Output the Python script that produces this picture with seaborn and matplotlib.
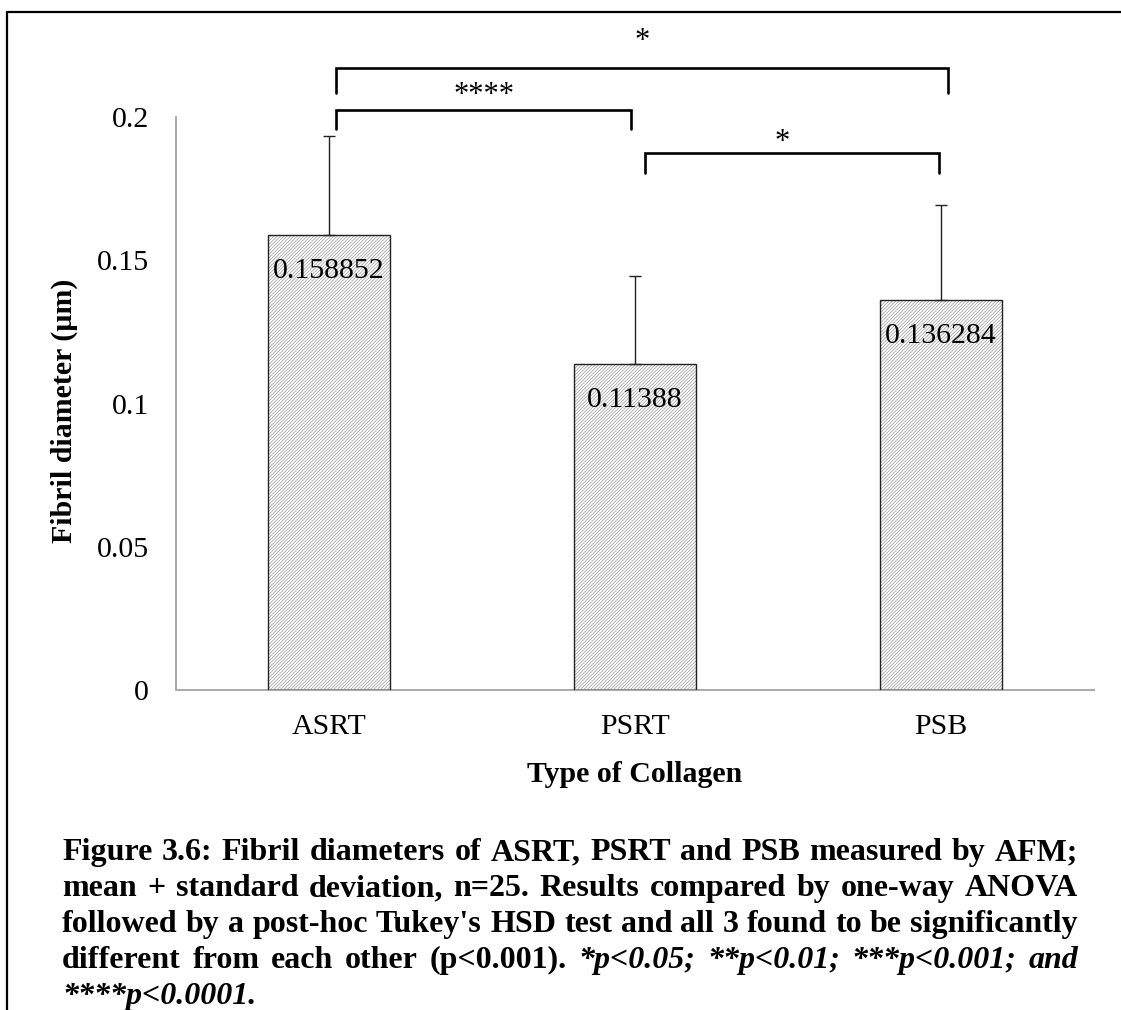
import numpy as np
import pandas as pd
import matplotlib
matplotlib.use("Agg")
import matplotlib.pyplot as plt
from matplotlib.lines import Line2D
from matplotlib.patches import Rectangle
import seaborn as sns

# ---- data -------------------------------------------------------------
collagen_types = ["ASRT", "PSRT", "PSB"]
mean_diameter = [0.158852, 0.11388, 0.136284]
sd_diameter = [0.0346, 0.0307, 0.0330]

y_ticks = [0, 0.05, 0.1, 0.15, 0.2]
y_tick_labels = ["0", "0.05", "0.1", "0.15", "0.2"]

# significance brackets: x start, x end, bracket height, leg bottom, label, label x, label baseline
brackets = [
    (0.023, 0.987, 0.2027, 0.1960, "****", 0.505, 0.2048),
    (0.023, 2.023, 0.2173, 0.2086, "*", 1.023, 0.2240),
    (1.033, 1.993, 0.1876, 0.1806, "*", 1.48, 0.1887),
]

caption_lines = [
    [("Figure 3.6: Fibril diameters of ASRT, PSRT and PSB measured by AFM;", "b")],
    [("mean + standard deviation, n=25. Results compared by one-way ANOVA", "b")],
    [("followed by a post-hoc Tukey's HSD test and all 3 found to be significantly", "b")],
    [("different from each other (p<0.001).", "b"),
     ("*p<0.05; **p<0.01; ***p<0.001; and", "bi")],
    [("****p<0.0001.", "bi")],
]

# ---- style ------------------------------------------------------------
sns.set_style("white")
plt.rcParams["font.family"] = ["Liberation Serif", "DejaVu Serif"]
plt.rcParams["hatch.linewidth"] = 0.5
plt.rcParams["text.color"] = "black"
plt.rcParams["axes.labelcolor"] = "black"

W, H = 1121, 1010
DPI = 100
fig = plt.figure(figsize=(W / DPI, H / DPI), dpi=DPI)
fig.patch.set_facecolor("white")

ax_left, ax_right, ax_bottom, ax_top = 176, 1094, 690, 17
ax = fig.add_axes([ax_left / W, 1 - ax_bottom / H,
                   (ax_right - ax_left) / W, (ax_bottom - ax_top) / H])
ax.set_facecolor("white")

df = pd.DataFrame({"type": collagen_types, "diameter": mean_diameter})
sns.barplot(data=df, x="type", y="diameter", ax=ax, width=0.4,
            color="white", errorbar=None)

# finely hatched fill with a thin dark outline on top
centers = []
for p in list(ax.patches):
    p.set_hatch("/" * 10)
    p.set_edgecolor("#9c9c9c")
    p.set_linewidth(0)
    ax.add_patch(Rectangle(p.get_xy(), p.get_width(), p.get_height(),
                           fill=False, edgecolor="#222222", linewidth=1.0, zorder=3))
    centers.append(p.get_x() + p.get_width() / 2)

# upper-only standard deviation bars
ax.errorbar(centers, mean_diameter,
            yerr=[np.zeros(len(sd_diameter)), sd_diameter],
            fmt="none", ecolor="#222222", elinewidth=1.0,
            capsize=4.3, capthick=1.0, zorder=4)

# value labels inside the top of each bar
for cx, v in zip(centers, mean_diameter):
    ax.annotate(f"{v:g}", xy=(cx, v), xytext=(0, -31), textcoords="offset points",
                ha="center", va="baseline", fontsize=21.5, zorder=5)

# significance brackets
for x0, x1, yb, yl, lab, lx, ly in brackets:
    ax.plot([x0, x0, x1, x1], [yl, yb, yb, yl], color="black", lw=1.9,
            solid_joinstyle="miter", clip_on=False, zorder=5)
    ax.text(lx, ly, lab, ha="center", va="baseline", fontsize=22, zorder=5)

# ---- axes -------------------------------------------------------------
ax.set_xlim(-0.5, 2.5)
ax.set_ylim(0, 0.235)
for s in ["top", "right"]:
    ax.spines[s].set_visible(False)
for s in ["left", "bottom"]:
    ax.spines[s].set_color("#a9a9a9")
    ax.spines[s].set_linewidth(1.4)
ax.spines["left"].set_bounds(0, 0.2)

ax.set_yticks(y_ticks, y_tick_labels)
ax.tick_params(axis="y", direction="out", length=6.5, width=1.3,
               color="#a9a9a9", pad=13, labelsize=21.5, labelcolor="black")
ax.set_xticks(range(len(collagen_types)), collagen_types)
ax.set_xticks(np.arange(-0.5, len(collagen_types), 1.0), minor=True)
ax.tick_params(axis="x", which="major", length=0, pad=17,
               labelsize=21.5, labelcolor="black")
ax.tick_params(axis="x", which="minor", direction="out", length=6.5,
               width=1.3, color="#a9a9a9")

ax.set_xlabel("Type of Collagen", fontsize=21.5, fontweight="bold", color="black")
ax.xaxis.set_label_coords(0.5, (ax_bottom - 761) / (ax_bottom - ax_top))
ax.set_ylabel("Fibril diameter (µm)", fontsize=21.5, fontweight="bold", color="black")
ax.yaxis.set_label_coords((64 - ax_left) / (ax_right - ax_left),
                          (ax_bottom - 411) / (ax_bottom - ax_top))
ax.yaxis.label.set_verticalalignment("center")

# ---- page frame -------------------------------------------------------
fig.add_artist(Line2D([7 / W, 7 / W], [0, 1 - 12 / H], color="black",
                      lw=1.6, transform=fig.transFigure))
fig.add_artist(Line2D([7 / W, 1], [1 - 12 / H, 1 - 12 / H], color="black",
                      lw=1.6, transform=fig.transFigure))

# ---- justified caption ------------------------------------------------
renderer = fig.canvas.get_renderer()
cap_size = 23
cap_x0, cap_x1 = 62, 1078
baselines = [860, 896, 932, 968, 1004]


def caption_line(segments, y_px, justify):
    words = []
    for text, style in segments:
        for w in text.split(" "):
            if w:
                words.append((w, style))
    arts, widths = [], []
    for w, style in words:
        t = fig.text(0, 1 - y_px / H, w, fontsize=cap_size, fontweight="bold",
                     fontstyle="italic" if style == "bi" else "normal",
                     ha="left", va="baseline", color="black")
        arts.append(t)
        widths.append(t.get_window_extent(renderer).width)
    if justify and len(words) > 1:
        gap = (cap_x1 - cap_x0 - sum(widths)) / (len(words) - 1)
    else:
        gap = 0.25 * cap_size * DPI / 72
    x = cap_x0
    for t, wd in zip(arts, widths):
        t.set_x(x / W)
        x += wd + gap


for i, (segs, yb) in enumerate(zip(caption_lines, baselines)):
    caption_line(segs, yb, justify=i < len(caption_lines) - 1)

fig.savefig("out.png", dpi=DPI, facecolor="white")
